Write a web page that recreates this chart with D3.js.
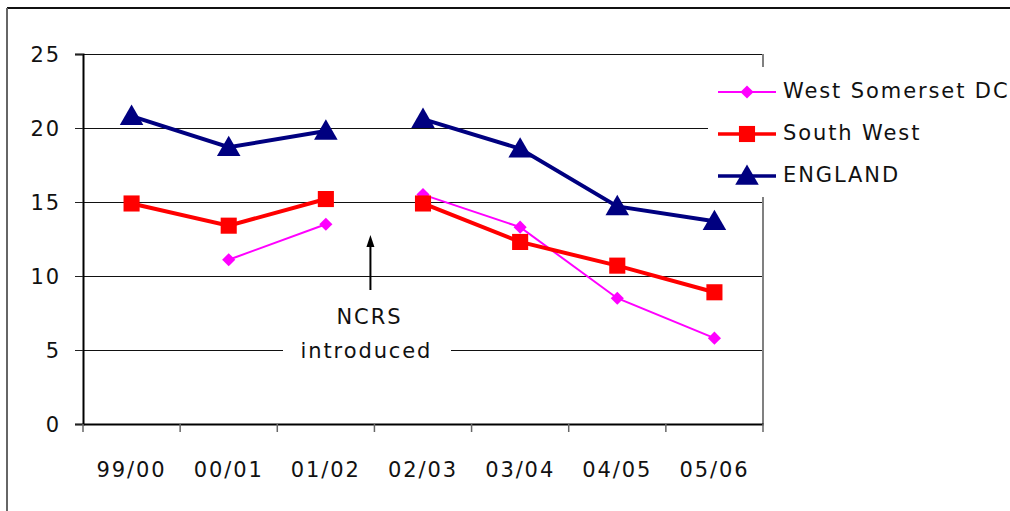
<!DOCTYPE html>
<html>
<head>
<meta charset="utf-8">
<script src="https://cdn.jsdelivr.net/npm/d3@7"></script>
<style>
  body { margin: 0; background: #fff; }
  text { font-family: "DejaVu Sans", sans-serif; font-size: 21px; fill: #111; letter-spacing: 1.9px; }
</style>
</head>
<body>
<div id="chart"></div>
<script>
// Data
const years = ["99/00", "00/01", "01/02", "02/03", "03/04", "04/05", "05/06"];
const westSomerset = [null, 11.1, 13.5, 15.5, 13.3, 8.5, 5.8];
const southWest = [14.9, 13.4, 15.2, 14.9, 12.3, 10.7, 8.9];
const england = [20.8, 18.7, 19.8, 20.6, 18.6, 14.7, 13.7];
const yTicks = [0, 5, 10, 15, 20, 25];
const breakAfter = "01/02"; // lines are broken where NCRS was introduced

const series = [
  { name: "West Somerset DC", values: westSomerset, color: "#ff00ff", width: 2, marker: "diamond" },
  { name: "South West", values: southWest, color: "#ff0000", width: 4, marker: "square" },
  { name: "ENGLAND", values: england, color: "#000080", width: 4, marker: "triangle" }
];

const width = 1010, height = 511;
const plot = { left: 83, right: 763, top: 54, bottom: 424 };

const svg = d3.select("#chart").append("svg")
  .attr("width", width)
  .attr("height", height);

// outer chart border (only top/left visible)
svg.append("line").attr("x1", 7).attr("x2", width).attr("y1", 8).attr("y2", 8)
  .attr("stroke", "#111").attr("stroke-width", 2);
svg.append("line").attr("x1", 7).attr("x2", 7).attr("y1", 8).attr("y2", height)
  .attr("stroke", "#666").attr("stroke-width", 2);

const x = d3.scaleBand().domain(years).range([plot.left, plot.right]);
const y = d3.scaleLinear().domain([0, 25]).range([plot.bottom, plot.top]);

// gridlines
svg.append("g").selectAll("line")
  .data(yTicks.filter(d => d > 0))
  .join("line")
  .attr("x1", plot.left).attr("x2", plot.right)
  .attr("y1", d => y(d) + 0.5).attr("y2", d => y(d) + 0.5)
  .attr("stroke", "#111").attr("stroke-width", 1)
  .attr("shape-rendering", "crispEdges");

// right plot border
svg.append("line")
  .attr("x1", plot.right).attr("x2", plot.right)
  .attr("y1", plot.top).attr("y2", plot.bottom)
  .attr("stroke", "#808080").attr("stroke-width", 2);

// y axis
const yAxis = svg.append("g").attr("transform", `translate(${plot.left},0)`)
  .call(d3.axisLeft(y).tickValues(yTicks).tickSize(8).tickPadding(14));
yAxis.select(".domain").attr("stroke", "#000").attr("stroke-width", 2);
yAxis.selectAll(".tick line").attr("stroke", "#222").attr("shape-rendering", "crispEdges");
yAxis.selectAll(".tick text").attr("font-size", null).attr("font-family", null)
  .attr("dy", "0.36em");

// x axis, ticks on band edges
const xAxis = svg.append("g").attr("transform", `translate(0,${plot.bottom})`)
  .call(d3.axisBottom(x).tickSize(0).tickPadding(38));
xAxis.select(".domain").attr("stroke", "#000").attr("stroke-width", 2);
xAxis.selectAll(".tick text").attr("font-size", null).attr("font-family", null);
const edges = years.map(d => x(d)).concat([plot.right]);
xAxis.selectAll(".edge").data(edges).join("line")
  .attr("class", "edge")
  .attr("x1", d => d).attr("x2", d => d)
  .attr("y1", 0).attr("y2", 8)
  .attr("stroke", "#666").attr("stroke-width", 1.5);

// NCRS annotation (white box hides gridline)
const ncrsX = x(breakAfter) + x.bandwidth();
svg.append("rect").attr("x", 283).attr("y", 298).attr("width", 168).attr("height", 70).attr("fill", "#fff");
svg.append("line")
  .attr("x1", ncrsX - 4).attr("x2", ncrsX - 4)
  .attr("y1", 290).attr("y2", 244)
  .attr("stroke", "#000").attr("stroke-width", 2);
svg.append("path")
  .attr("d", `M${ncrsX - 4},235 L${ncrsX},247 L${ncrsX - 8},247 Z`)
  .attr("fill", "#000");
svg.append("text").attr("x", ncrsX - 5).attr("y", 324).attr("text-anchor", "middle").text("NCRS");
svg.append("text").attr("x", ncrsX - 8).attr("y", 358).attr("text-anchor", "middle").text("introduced");

// lines and markers
const breakIdx = years.indexOf(breakAfter);
const line = d3.line()
  .defined(d => d.v != null)
  .x(d => x(d.year) + x.bandwidth() / 2)
  .y(d => y(d.v));

const symbolFor = {
  diamond: d3.symbol().type(d3.symbolDiamond2).size(110),
  square: d3.symbol().type(d3.symbolSquare2).size(330),
  triangle: d3.symbol().type(d3.symbolTriangle).size(240)
};

series.forEach(s => {
  const pts = years.map((yr, i) => ({ year: yr, v: s.values[i] }));
  const segments = [pts.slice(0, breakIdx + 1), pts.slice(breakIdx + 1)];
  const g = svg.append("g");
  segments.forEach(seg => {
    g.append("path").attr("d", line(seg))
      .attr("fill", "none").attr("stroke", s.color).attr("stroke-width", s.width);
  });
  g.selectAll("path.m").data(pts.filter(d => d.v != null)).join("path")
    .attr("class", "m")
    .attr("transform", d => `translate(${x(d.year) + x.bandwidth() / 2},${y(d.v) + (s.marker === "triangle" ? 2 : 0)})`)
    .attr("d", symbolFor[s.marker]())
    .attr("fill", s.color);
});

// legend
const legend = svg.append("g");
legend.append("rect").attr("x", 708).attr("y", 67).attr("width", 302).attr("height", 130).attr("fill", "#fff");
series.forEach((s, i) => {
  const ly = 92 + i * 42;
  legend.append("line").attr("x1", 718).attr("x2", 776).attr("y1", ly).attr("y2", ly)
    .attr("stroke", s.color).attr("stroke-width", s.width === 2 ? 2 : 3.5);
  legend.append("path")
    .attr("transform", `translate(747,${ly + (s.marker === "triangle" ? 2 : 0)})`)
    .attr("d", symbolFor[s.marker]())
    .attr("fill", s.color);
  legend.append("text").attr("x", 783).attr("y", ly + 6).text(s.name);
});
</script>
</body>
</html>
